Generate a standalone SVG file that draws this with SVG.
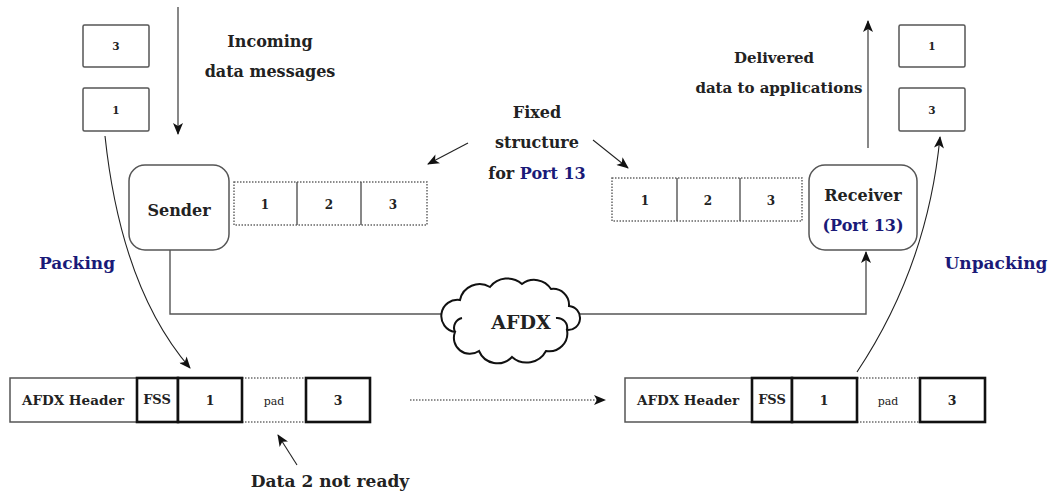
<svg xmlns="http://www.w3.org/2000/svg" width="1056" height="495" viewBox="0 0 1056 495">
<defs>
<marker id="ah" viewBox="0 0 12 10" refX="11" refY="5" markerWidth="13" markerHeight="10" markerUnits="userSpaceOnUse" orient="auto">
<path d="M0 0 L12 5 L0 10 L3 5 Z" fill="#111"/>
</marker>
<style>
.t{font-family:'DejaVu Serif',serif;font-weight:bold;fill:#222;text-anchor:middle}
.b{fill:#1a1a78}
.box{fill:#fff;stroke:#555;stroke-width:1.5}
.dot{fill:none;stroke:#666;stroke-width:1.5;stroke-dasharray:1.5 1.5}
.ln{fill:none;stroke:#555;stroke-width:1.4}
.cv{fill:none;stroke:#222;stroke-width:1.1}
.thick{fill:#fff;stroke:#111;stroke-width:2.6}
</style>
</defs>
<rect width="1056" height="495" fill="#fff"/>

<g id="connectors">
<path class="ln" d="M178 7 V134" marker-end="url(#ah)"/>
<path class="ln" d="M868 148 V21" marker-end="url(#ah)"/>
<path class="cv" d="M468 143 L428 164" marker-end="url(#ah)"/>
<path class="cv" d="M593 140 L628 168" marker-end="url(#ah)"/>
<path class="cv" d="M105 136 C115 230 140 310 190 368" marker-end="url(#ah)"/>
<path class="cv" d="M857 372 C905 300 932 220 940 137" marker-end="url(#ah)"/>
<path class="ln" d="M170 250 V314 H866 V252" marker-end="url(#ah)"/>
<path class="cv" d="M410 400 H605" stroke-dasharray="1.5 1.5" marker-end="url(#ah)"/>
<path class="cv" d="M297 465 L278 435" marker-end="url(#ah)"/>
</g>

<g id="msg-in-3"><rect class="box" x="83" y="25" width="66" height="42" rx="1.5"/><text class="t" x="116" y="50" font-size="10.5">3</text></g>
<g id="msg-in-1"><rect class="box" x="83" y="88" width="66" height="43" rx="1.5"/><text class="t" x="116" y="114" font-size="10.5">1</text></g>
<g id="msg-out-1"><rect class="box" x="899" y="25" width="66" height="42" rx="1.5"/><text class="t" x="932" y="50" font-size="10.5">1</text></g>
<g id="msg-out-3"><rect class="box" x="899" y="88" width="66" height="43" rx="1.5"/><text class="t" x="932" y="114" font-size="10.5">3</text></g>

<g id="label-incoming"><text class="t" x="270" y="47" font-size="16">Incoming</text><text class="t" x="270" y="77" font-size="16">data messages</text></g>
<g id="label-delivered"><text class="t" x="774" y="63" font-size="15">Delivered</text><text class="t" x="779" y="93" font-size="15">data to applications</text></g>
<g id="label-fixed"><text class="t" x="537" y="118" font-size="16">Fixed</text><text class="t" x="537" y="148" font-size="16">structure</text><text class="t" x="537" y="179" font-size="16">for <tspan class="b">Port 13</tspan></text></g>

<g id="sender"><rect class="box" x="129" y="165" width="100" height="85" rx="16"/><text class="t" x="179" y="216" font-size="16">Sender</text></g>
<g id="sender-struct">
<rect class="dot" x="234" y="182" width="193" height="43"/>
<path class="ln" d="M297 182 V225 M361 182 V225"/>
<text class="t" x="265" y="209" font-size="12">1</text><text class="t" x="329" y="209" font-size="12">2</text><text class="t" x="393" y="209" font-size="12">3</text>
</g>
<g id="receiver"><rect class="box" x="809" y="165" width="108" height="85" rx="16"/><text class="t" x="863" y="201" font-size="16">Receiver</text><text class="t b" x="863" y="231" font-size="16">(Port 13)</text></g>
<g id="receiver-struct">
<rect class="dot" x="612" y="178" width="190" height="43"/>
<path class="ln" d="M677 178 V221 M740 178 V221"/>
<text class="t" x="645" y="205" font-size="12">1</text><text class="t" x="708" y="205" font-size="12">2</text><text class="t" x="771" y="205" font-size="12">3</text>
</g>

<g id="label-packing"><text class="t b" x="77" y="269" font-size="17">Packing</text></g>
<g id="label-unpacking"><text class="t b" x="996" y="269" font-size="17">Unpacking</text></g>

<g id="afdx">
<path d="M455 332 A14 14 0 0 1 460 300 A20 20 0 0 1 490 287 A22 22 0 0 1 522 284 A20 20 0 0 1 551 289 A16 16 0 0 1 569 306 A12 12 0 0 1 567 330 A18 18 0 0 1 546 351 A22 22 0 0 1 512 357 A20 20 0 0 1 479 351 A16 16 0 0 1 455 332 Z" fill="#fff" stroke="#111" stroke-width="2"/>
<path d="M567 330 A10 10 0 0 0 556 318" fill="none" stroke="#111" stroke-width="2"/>
<path d="M455 332 A10 10 0 0 1 462 318" fill="none" stroke="#111" stroke-width="2"/>
<text class="t" x="521" y="329" font-size="19">AFDX</text>
</g>

<g id="packet-left">
<rect class="box" x="10" y="378" width="127" height="44"/>
<text class="t" x="73" y="405" font-size="13.5">AFDX Header</text>
<path d="M242 378 H306 M242 422 H306" class="cv" stroke-width="2" stroke-dasharray="1.5 1.5"/>
<text x="274" y="405" font-size="11" font-family="DejaVu Serif, serif" text-anchor="middle" fill="#222">pad</text>
<rect class="thick" x="137" y="378" width="41" height="44"/>
<text class="t" x="157" y="404" font-size="13">FSS</text>
<rect class="thick" x="178" y="378" width="64" height="44"/>
<text class="t" x="210" y="405" font-size="12.5">1</text>
<rect class="thick" x="306" y="378" width="64" height="44"/>
<text class="t" x="338" y="405" font-size="12.5">3</text>
</g>

<g id="packet-right">
<rect class="box" x="625" y="378" width="127" height="44"/>
<text class="t" x="688" y="405" font-size="13.5">AFDX Header</text>
<path d="M857 378 H920 M857 422 H920" class="cv" stroke-width="2" stroke-dasharray="1.5 1.5"/>
<text x="888" y="405" font-size="11" font-family="DejaVu Serif, serif" text-anchor="middle" fill="#222">pad</text>
<rect class="thick" x="752" y="378" width="40" height="44"/>
<text class="t" x="772" y="404" font-size="13">FSS</text>
<rect class="thick" x="792" y="378" width="65" height="44"/>
<text class="t" x="824" y="405" font-size="12.5">1</text>
<rect class="thick" x="920" y="378" width="65" height="44"/>
<text class="t" x="952" y="405" font-size="12.5">3</text>
</g>

<g id="label-data2"><text class="t" x="330" y="487" font-size="17">Data 2 not ready</text></g>
</svg>
